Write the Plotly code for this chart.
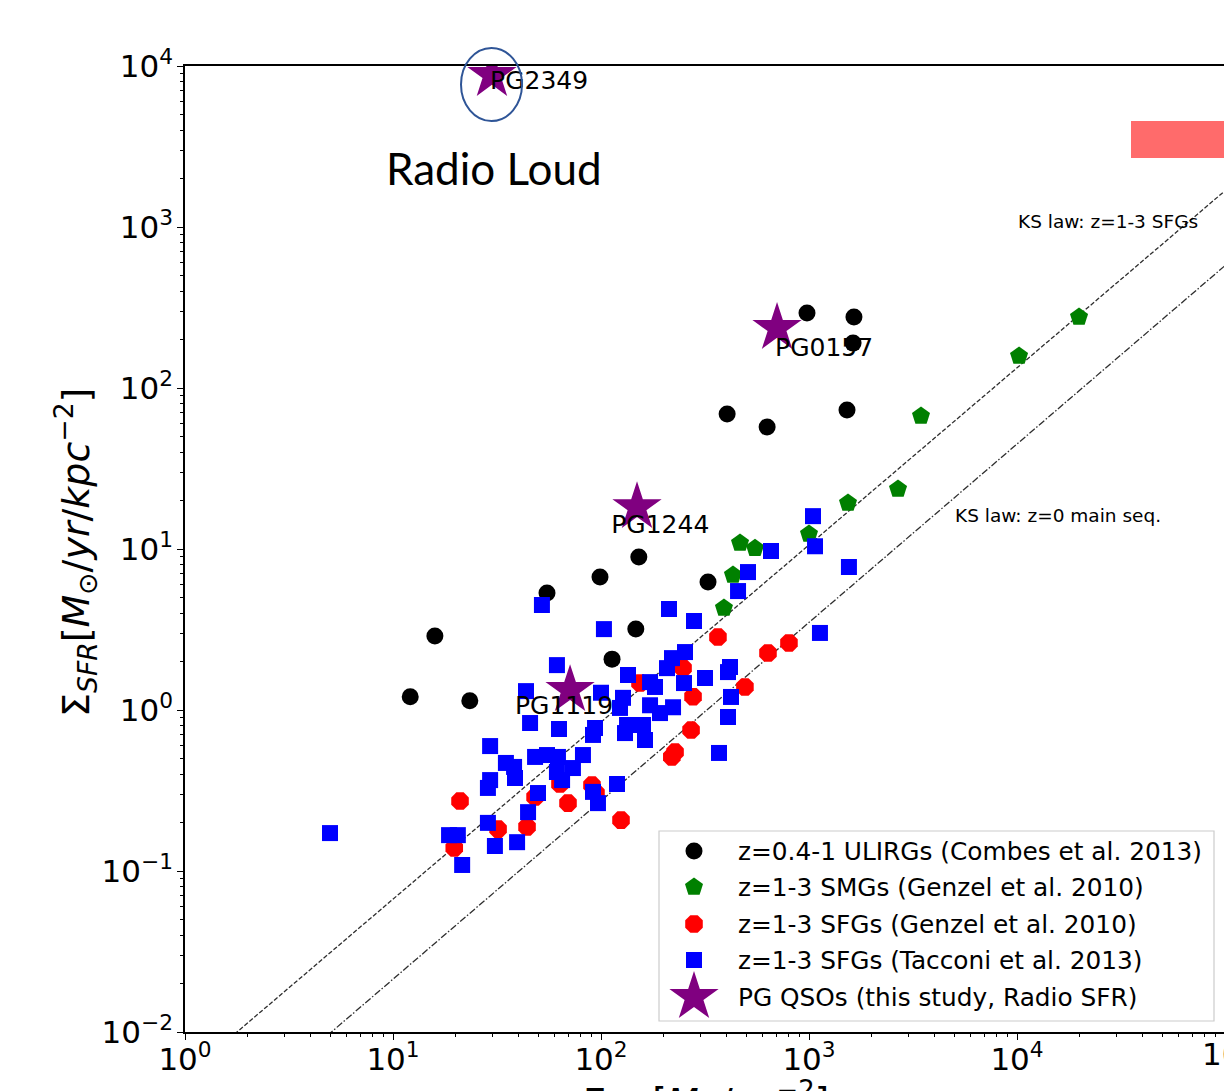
import numpy as np
import plotly.graph_objects as go

# ---------------- data ----------------
ulirg_gas = [12.1, 23.4, 15.9, 55.0, 98.9, 152, 327, 147, 113, 404, 629, 1523, 978, 1645, 1629]
ulirg_sfr = [1.21, 1.14, 2.88, 5.33, 6.70, 8.92, 6.24, 3.18, 2.07, 69.0, 57.2, 73.0, 292, 276, 190]

smg_gas = [19870, 10230, 3455, 2679, 1540, 1000, 466, 550, 431, 390]
smg_sfr = [276, 158, 67.0, 23.6, 19.3, 12.4, 10.9, 10.1, 6.90, 4.30]

g10_gas = [21.0, 32.0, 19.7, 44.1, 48.2, 63.5, 69.4, 90.5, 94.6, 124.8,
           154, 248, 277, 271, 227, 219, 365, 492, 635, 801]
g10_sfr = [0.272, 0.182, 0.139, 0.188, 0.288, 0.347, 0.264, 0.342, 0.305, 0.207,
           1.47, 1.82, 1.21, 0.751, 0.548, 0.511, 2.84, 1.39, 2.26, 2.61]

t13_gas = [4.98, 52.0, 61.4, 43.6, 45.6, 62.8, 29.3, 34.9, 38.2, 38.6,
           48.2, 55.0, 62.1, 81.9, 73.3, 61.4, 65.0, 29.3, 28.6, 49.8,
           91.5, 96.7, 119.4, 44.6, 28.6, 18.6, 20.5, 30.9, 39.5, 21.5,
           103.3, 134.8, 100.0, 127.6, 123.4, 93.6, 91.5, 133.4, 130.4, 159.2,
           162.8, 172.1, 192.2, 222.0, 172.1, 181.8, 207.6, 219.4, 253.4, 250.6,
           316.2, 417.1, 408.0, 421.7, 408.0, 369.2, 212.3, 280.0, 455.9, 509.0,
           656.6, 1045, 1069, 1556, 1129]
t13_sfr = [0.172, 4.49, 1.90, 1.31, 0.830, 0.762, 0.597, 0.469, 0.443, 0.378,
           0.511, 0.525, 0.511, 0.525, 0.436, 0.412, 0.367, 0.367, 0.328, 0.305,
           0.310, 0.264, 0.347, 0.232, 0.199, 0.167, 0.167, 0.143, 0.151, 0.109,
           3.18, 1.65, 1.28, 1.19, 1.03, 0.773, 0.700, 0.807, 0.719, 0.807,
           0.651, 1.07, 0.957, 1.04, 1.49, 1.39, 1.82, 2.10, 2.29, 1.47,
           1.58, 1.85, 1.72, 1.205, 0.905, 0.541, 4.24, 3.57, 5.48, 7.19,
           9.72, 16.0, 10.4, 7.73, 3.01]

pg_names = ["PG2349", "PG0157", "PG1244", "PG1119"]
pg_gas = [29.9, 702, 149, 71.0]
pg_sfr = [8800, 236, 18.2, 1.33]
pg_label_gas = [29.3, 687, 112, 38.6]
pg_label_sfr = [7830, 172, 13.7, 1.03]

# KS laws: log SFR = slope * log gas + intercept
ks_names = ["KS law: z=1-3 SFGs", "KS law: z=0 main seq."]
ks_slope = [1.10, 1.108]
ks_intercept = [-2.275, -2.78]

x_tick_vals = [1, 10, 100, 1000, 10000]
x_tick_text = ["10<sup>0</sup>", "10<sup>1</sup>", "10<sup>2</sup>", "10<sup>3</sup>", "10<sup>4</sup>"]
y_tick_vals = [0.01, 0.1, 1, 10, 100, 1000, 10000]
y_tick_text = ["10<sup>−2</sup>", "10<sup>−1</sup>", "10<sup>0</sup>", "10<sup>1</sup>",
               "10<sup>2</sup>", "10<sup>3</sup>", "10<sup>4</sup>"]

legend_labels = ["z=0.4-1 ULIRGs (Combes et al. 2013)",
                 "z=1-3 SMGs (Genzel et al. 2010)",
                 "z=1-3 SFGs (Genzel et al. 2010)",
                 "z=1-3 SFGs (Tacconi et al. 2013)",
                 "PG QSOs (this study, Radio SFR)"]

# ---------------- styles ----------------
FONT = "DejaVu Sans"
styles = [
    dict(symbol="circle", color="black", size=17),
    dict(symbol="pentagon", color="green", size=19),
    dict(symbol="octagon", color="red", size=19),
    dict(symbol="square", color="blue", size=16),
    dict(symbol="star", color="purple", size=37),
]

W, H = 1224, 1091
ML, MT, MB = 185, 66, 59
PLOT_W = W - ML
PLOT_H = H - MT - MB
XMAX = PLOT_W / 208.0  # 208 px per decade
TICK_FS = 31

fig = go.Figure()

# KS law lines
xs = np.logspace(0, 5.2, 200)
dashes = ["4.5px,2px", "7px,2px,1.5px,2px"]
for s, b, d in zip(ks_slope, ks_intercept, dashes):
    ys = 10 ** (s * np.log10(xs) + b)
    fig.add_trace(go.Scatter(x=xs, y=ys, mode="lines",
                             line=dict(color="#2e2e2e", width=1.3, dash=d),
                             hoverinfo="skip", showlegend=False))

series = [(ulirg_gas, ulirg_sfr), (smg_gas, smg_sfr), (g10_gas, g10_sfr),
          (t13_gas, t13_sfr), (pg_gas, pg_sfr)]
for (gx, gy), st, name in zip(series, styles, legend_labels):
    fig.add_trace(go.Scatter(x=gx, y=gy, mode="markers", name=name,
                             marker=dict(symbol=st["symbol"], color=st["color"],
                                         size=st["size"], line=dict(width=0)),
                             showlegend=False))

# PG labels
fig.add_trace(go.Scatter(x=pg_label_gas, y=pg_label_sfr, mode="text", text=pg_names,
                         textposition="middle right",
                         textfont=dict(family=FONT, size=25, color="black"),
                         hoverinfo="skip", showlegend=False))

# ---------------- hand-drawn legend (overlay axes in plot fractions) ----------------
def px_to_fx(px):
    return (px - ML) / PLOT_W

def py_to_fy(py):
    return (MT + PLOT_H - py) / PLOT_H

leg_rows_py = [851, 887, 924, 960, 997]
for st, py, lab in zip(styles, leg_rows_py, legend_labels):
    fig.add_trace(go.Scatter(x=[px_to_fx(694)], y=[py_to_fy(py)], mode="markers",
                             xaxis="x2", yaxis="y2",
                             marker=dict(symbol=st["symbol"], color=st["color"],
                                         size=st["size"], line=dict(width=0)),
                             hoverinfo="skip", showlegend=False))
    fig.add_annotation(x=px_to_fx(736), y=py_to_fy(py), xref="x2", yref="y2",
                       text=lab, showarrow=False, xanchor="left", yanchor="middle",
                       font=dict(family=FONT, size=24.8, color="black"))

# legend frame
x0, x1 = px_to_fx(659), px_to_fx(1214)
y0, y1 = py_to_fy(1021), py_to_fy(831)
fig.add_shape(type="rect", xref="paper", yref="paper", x0=x0, x1=x1, y0=y0, y1=y1,
              line=dict(color="#cccccc", width=1.2), fillcolor="rgba(255,255,255,0.8)",
              layer="below")

# KS law texts
fig.add_annotation(xref="paper", yref="paper", x=px_to_fx(1016), y=py_to_fy(222),
                   text=ks_names[0], showarrow=False, xanchor="left", yanchor="middle",
                   font=dict(family=FONT, size=18.5, color="black"))
fig.add_annotation(xref="paper", yref="paper", x=px_to_fx(953), y=py_to_fy(515),
                   text=ks_names[1], showarrow=False, xanchor="left", yanchor="middle",
                   font=dict(family=FONT, size=18.5, color="black"))

# slide overlays: ellipse, "Radio Loud", red bar
fig.add_shape(type="circle", xref="paper", yref="paper",
              x0=px_to_fx(461), x1=px_to_fx(522), y0=py_to_fy(121), y1=py_to_fy(48),
              line=dict(color="#2F5597", width=2), layer="above")
fig.add_annotation(xref="paper", yref="paper", x=px_to_fx(494), y=py_to_fy(168),
                   text="Radio Loud", showarrow=False, xanchor="center", yanchor="middle",
                   font=dict(family="Lato", size=44, color="black"))
fig.add_shape(type="rect", xref="paper", yref="paper",
              x0=px_to_fx(1131), x1=px_to_fx(1260), y0=py_to_fy(158), y1=py_to_fy(121),
              line=dict(width=0), fillcolor="#FF6B6B", layer="above")

# axis titles
fig.add_annotation(xref="paper", yref="paper", x=px_to_fx(75), y=py_to_fy(553),
                   text="Σ<sub><i>SFR</i></sub>[<i>M</i><sub>⊙</sub>/<i>yr</i>/<i>kpc</i><sup>−2</sup>]",
                   textangle=-90, showarrow=False, xanchor="center", yanchor="middle",
                   font=dict(family=FONT, size=38, color="black"))
fig.add_annotation(xref="paper", yref="paper", x=px_to_fx(706), y=0, yshift=-41,
                   text="Σ<sub><i>gas</i></sub>[<i>M</i><sub>⊙</sub>/<i>pc</i><sup>−2</sup>]",
                   showarrow=False, xanchor="center", yanchor="top",
                   font=dict(family=FONT, size=37, color="black"))

minor_x = [m * 10 ** k for k in range(0, 5) for m in range(2, 10)]
minor_y = [m * 10.0 ** k for k in range(-2, 4) for m in range(2, 10)]

fig.update_layout(
    width=W, height=H,
    margin=dict(l=ML, r=0, t=MT, b=MB, pad=0),
    paper_bgcolor="white", plot_bgcolor="white",
    showlegend=False,
    font=dict(family=FONT, color="black"),
    xaxis=dict(type="log", range=[0, XMAX], showgrid=False, zeroline=False,
               showline=True, linecolor="black", linewidth=1.5, mirror=True,
               ticks="outside", ticklen=6, tickwidth=1.2, tickcolor="black",
               tickvals=x_tick_vals, ticktext=x_tick_text, ticklabelstandoff=-7,
               tickfont=dict(family=FONT, size=TICK_FS, color="black"),
               minor=dict(tickvals=minor_x, ticks="outside", ticklen=3.5, tickwidth=1,
                          tickcolor="black", showgrid=False),
               automargin=False),
    yaxis=dict(type="log", range=[-2, 4], showgrid=False, zeroline=False,
               showline=True, linecolor="black", linewidth=1.5,
               ticks="outside", ticklen=6, tickwidth=1.2, tickcolor="black",
               tickvals=y_tick_vals, ticktext=y_tick_text, ticklabelstandoff=-2,
               tickfont=dict(family=FONT, size=TICK_FS, color="black"),
               minor=dict(tickvals=minor_y, ticks="outside", ticklen=3.5, tickwidth=1,
                          tickcolor="black", showgrid=False),
               automargin=False),
    xaxis2=dict(range=[0, 1], overlaying="x", visible=False, anchor="y2", fixedrange=True),
    yaxis2=dict(range=[0, 1], overlaying="y", visible=False, anchor="x2", fixedrange=True),
)

# partially visible 10^5 tick label at the cut right edge (same baseline as tick labels)
fig.add_annotation(xref="paper", yref="paper", x=px_to_fx(1228), y=0, yshift=2,
                   text="10<sup>5</sup>", showarrow=False, xanchor="center", yanchor="top",
                   font=dict(family=FONT, size=TICK_FS, color="black"))

fig.write_html("out.html", config={"displayModeBar": False},
               post_script="document.body.style.margin='0';document.body.style.overflow='hidden';")
